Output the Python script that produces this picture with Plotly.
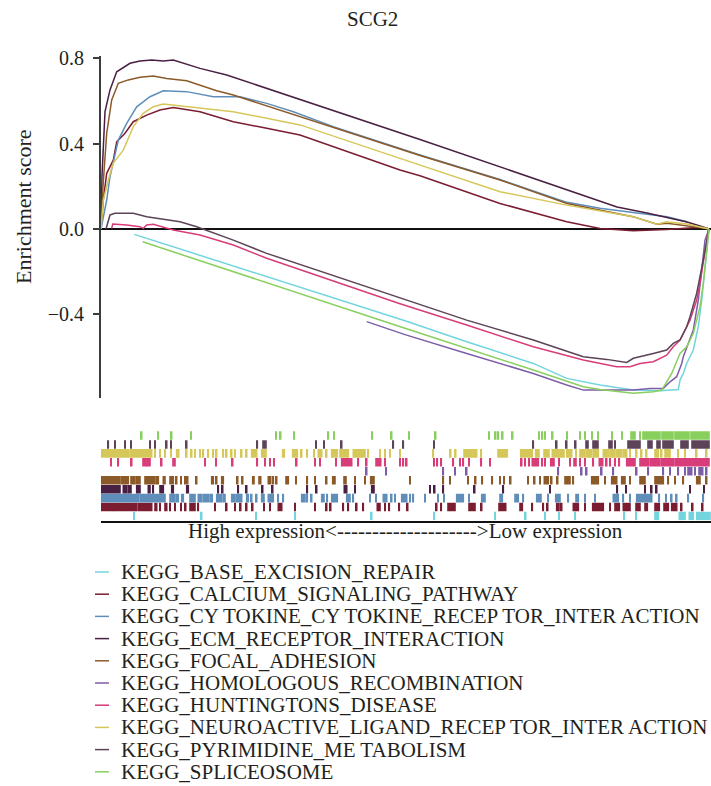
import plotly.graph_objects as go

# ---------------------------------------------------------------- gene sets
pathways = [
    "KEGG_BASE_EXCISION_REPAIR",
    "KEGG_CALCIUM_SIGNALING_PATHWAY",
    "KEGG_CY TOKINE_CY TOKINE_RECEP TOR_INTER ACTION",
    "KEGG_ECM_RECEPTOR_INTERACTION",
    "KEGG_FOCAL_ADHESION",
    "KEGG_HOMOLOGOUS_RECOMBINATION",
    "KEGG_HUNTINGTONS_DISEASE",
    "KEGG_NEUROACTIVE_LIGAND_RECEP TOR_INTER ACTION",
    "KEGG_PYRIMIDINE_ME TABOLISM",
    "KEGG_SPLICEOSOME",
]
colors = [
    "#72d4dd", "#7b1c31", "#5e8eb9", "#4a1f44", "#8c5a29",
    "#7c5ea8", "#d83c79", "#d6c75b", "#5c4358", "#88cf5d",
]

# ------------------------------------------- running enrichment score curves
# x: position in the ranked gene list, y: running enrichment score
base_excision_rank = [333, 3040, 3657, 4323, 4657, 4990, 5323, 5590, 5773, 5790, 5823, 5857, 5923, 5973, 6007, 6050, 6080]
base_excision_es = [-0.025, -0.43, -0.528, -0.63, -0.70, -0.731, -0.755, -0.758, -0.752, -0.708, -0.677, -0.63, -0.567, -0.458, -0.333, -0.145, 0.0]

calcium_rank = [0, 23, 57, 123, 157, 240, 323, 457, 590, 723, 990, 1323, 1657, 1990, 2990, 3190, 3990, 4657, 4990, 5323, 5657, 5990, 6080]
calcium_es = [0.0, 0.136, 0.261, 0.323, 0.409, 0.449, 0.503, 0.534, 0.558, 0.57, 0.55, 0.503, 0.472, 0.441, 0.277, 0.25, 0.12, 0.034, 0.003, -0.008, -0.002, 0.008, 0.0]

cytokine_rank = [0, 57, 90, 123, 173, 257, 357, 490, 623, 857, 1123, 1390, 1657, 1923, 2323, 3190, 3990, 4660, 4990, 5320, 5460, 5660, 5860]
cytokine_es = [0.0, 0.136, 0.245, 0.308, 0.417, 0.495, 0.573, 0.62, 0.648, 0.644, 0.62, 0.62, 0.589, 0.55, 0.48, 0.347, 0.232, 0.125, 0.097, 0.077, 0.07, 0.058, 0.034]

ecm_rank = [0, 10, 40, 90, 157, 240, 290, 390, 507, 620, 723, 990, 1257, 3190, 5160, 5460, 5600, 5860, 5990, 6060, 6080]
ecm_es = [0.0, 0.25, 0.55, 0.652, 0.737, 0.761, 0.777, 0.788, 0.792, 0.788, 0.792, 0.753, 0.722, 0.42, 0.103, 0.075, 0.061, 0.033, 0.014, 0.005, 0.0]

focal_rank = [0, 20, 57, 107, 173, 273, 390, 523, 657, 857, 1157, 1323, 3190, 3990, 4660, 5320, 5560, 5660, 6060, 6080]
focal_es = [0.0, 0.2, 0.449, 0.605, 0.683, 0.699, 0.711, 0.717, 0.706, 0.695, 0.648, 0.628, 0.345, 0.23, 0.12, 0.058, 0.023, 0.027, 0.003, 0.0]

homologous_rank = [2657, 3040, 3657, 4323, 4657, 4823, 5323, 5490, 5623, 5690, 5757, 5807, 5823, 5890, 5923, 5973, 6007, 6040, 6080]
homologous_es = [-0.434, -0.495, -0.583, -0.677, -0.731, -0.755, -0.755, -0.747, -0.747, -0.716, -0.692, -0.63, -0.599, -0.52, -0.473, -0.333, -0.177, -0.052, 0.0]

huntingtons_rank = [107, 117, 257, 390, 423, 457, 523, 723, 990, 1323, 1657, 1757, 2990, 3657, 4323, 4823, 5157, 5290, 5390, 5523, 5657, 5723, 5790, 5890, 5957, 5990, 6040, 6073, 6080]
huntingtons_es = [0.003, 0.023, 0.019, 0.011, 0.003, 0.019, 0.022, -0.005, -0.028, -0.075, -0.137, -0.153, -0.35, -0.45, -0.552, -0.614, -0.645, -0.645, -0.63, -0.622, -0.591, -0.552, -0.52, -0.427, -0.333, -0.255, -0.098, -0.005, 0.0]

neuroactive_rank = [0, 23, 73, 123, 223, 323, 423, 523, 623, 790, 1057, 1323, 1657, 1990, 2990, 3190, 3990, 4657, 5323, 5557, 5657, 5860, 6060, 6080]
neuroactive_es = [0.0, 0.136, 0.23, 0.309, 0.37, 0.48, 0.542, 0.573, 0.586, 0.577, 0.561, 0.55, 0.519, 0.488, 0.331, 0.30, 0.175, 0.112, 0.058, 0.022, 0.034, 0.024, 0.003, 0.0]

pyrimidine_rank = [50, 90, 140, 323, 457, 657, 790, 957, 1323, 1657, 2990, 3657, 4323, 4823, 5057, 5257, 5323, 5390, 5523, 5657, 5723, 5790, 5857, 5890, 5957, 6023, 6073, 6080]
pyrimidine_es = [0.0, 0.066, 0.074, 0.074, 0.058, 0.042, 0.034, 0.011, -0.052, -0.114, -0.322, -0.427, -0.52, -0.599, -0.611, -0.625, -0.606, -0.599, -0.583, -0.567, -0.536, -0.52, -0.458, -0.411, -0.301, -0.145, -0.005, 0.0]

spliceosome_rank = [417, 1723, 1807, 3040, 4323, 4823, 4990, 5323, 5523, 5607, 5657, 5707, 5790, 5857, 5923, 5990, 6023, 6057, 6080]
spliceosome_es = [-0.06, -0.263, -0.273, -0.465, -0.661, -0.739, -0.752, -0.77, -0.763, -0.755, -0.716, -0.677, -0.583, -0.552, -0.489, -0.364, -0.255, -0.098, 0.0]

# ------------------------------------------------ gene set hits in the ranked list
# a single number is one hit, a pair is a run of neighbouring hits
base_excision_hits = [330, 1007, 1550, 1940, 2707, 3333, 3940, 4247, 4440, 4580, 4740, 5230, 5350,
                      (5540, 5573), (5783, 5840), (5883, 5923), (5957, 6090)]
calcium_hits = [(0, 123), (133, 357), (373, 507), (540, 557), 590, (640, 657), 690, 740, 800, 847, (890, 940), 973,
                1140, 1257, 1340, 1397, 1457, 1517, 1630, 1690, (1773, 1807), 1940, 2140, 2257, 2297, 2423, 2473,
                2557, 2623, (2763, 2790), 2840, 2883, 2983, 3067, 3357, 3403, (3470, 3540), (3680, 3740), 3807,
                (3980, 4047), (4190, 4213), 4313, 4423, 4467, (4557, 4580), 4607, (4723, 4773), 4840, (4917, 5023),
                5090, (5140, 5183), (5223, 5290), (5350, 5390), (5440, 5463), (5540, 5583), (5630, 5673),
                (5707, 5757), 5807, 5917, 6017]
cytokine_hits = [(0, 373), (390, 640), (690, 740), (757, 773), (807, 823), (890, 940), (973, 1007), (1023, 1073),
                 (1090, 1113), (1157, 1207), (1223, 1240), (1307, 1340), (1357, 1407), (1457, 1473), 1507, 1557,
                 (1607, 1630), (1673, 1723), 1773, 1823, (2007, 2040), 2063, 2107, (2207, 2230), 2263, (2307, 2363),
                 (2457, 2490), 2523, 2690, 2750, (2823, 2857), 2907, 2940, (3007, 3057), 3090, 3123, 3240, 3370,
                 3430, (3557, 3623), 3680, (3807, 3840), (3990, 4013), (4140, 4173), 4223, (4357, 4400), 4470,
                 (4547, 4590), 4673, (4750, 4773), 4840, 4940, (5123, 5173), 5223, 5290, (5357, 5507), 5583, 5650,
                 5707, 5757, 5873, 6023]
ecm_hits = [(0, 190), (223, 257), (273, 300), (357, 390), (473, 490), 523, (590, 623), (707, 723), (857, 873), 1173,
            1217, 1373, 1457, 1617, 1717, 2063, 2157, (2433, 2457), 2540, (2707, 2730), 3290, 3337, 3423, 3737,
            4023, 4490, 5163, 5250, 5440, 5507, 5557, 5890, 6030]
focal_hits = [(0, 190), (207, 273), (300, 340), (357, 390), (440, 540), (557, 573), (623, 640), (690, 723), 757,
              800, 840, 867, 957, (1107, 1123), 1157, (1207, 1223), 1367, 1417, (1517, 1530), (1580, 1597),
              (1673, 1697), 1723, 1757, (1850, 1873), 1950, 2063, 2140, 2257, (2317, 2340), (2430, 2450), 2540,
              2640, (2697, 2730), 3090, 3423, 3490, 3670, 3747, 3813, 3913, 3990, 4030, 4097, 4270, 4337, 4390,
              (4433, 4473), 4507, 4567, (4640, 4690), 4723, (4907, 4973), 5040, (5107, 5157), (5207, 5240), 5290,
              (5390, 5440), (5540, 5623), 5673, 5740, 5823, (5957, 5990), 6057]
homologous_hits = [2657, 2850, 3423, 3540, 3657, 4573, 4807, 4857, 5007, 5123, 5357, 5473, 5623, 5690, 5773, 5840,
                   (5870, 5907), 5940, (5980, 6017), 6057]
huntingtons_hits = [100, 173, 307, (420, 450), (460, 490), 607, (720, 740), 1040, 1150, 1317, 1563, 1640, 1690, 1730,
                    1957, 2140, 2190, 2350, (2407, 2507), 2573, 2657, (2750, 2797), 2840, 2990, 3023, 3057, 3330,
                    3363, 3403, 3523, 3590, 3623, 3680, 3803, 3890, 4207, 4240, 4280, (4313, 4373), 4413, 4440,
                    (4497, 4530), 4580, 4690, (4730, 4750), 4790, 4840, 4923, (4983, 5017), 5057, 5090, 5140, 5183,
                    (5257, 5340), (5390, 5473), (5490, 5590), (5607, 5723), (5740, 6080)]
neuroactive_hits = [(0, 273), (290, 490), 507, 540, 590, 640, 700, (757, 777), 857, 907, 940, 990, 1023, 1073, 1123,
                    1157, 1223, 1257, 1307, 1340, 1407, 1457, (1507, 1557), (1607, 1650), (1817, 1833), (1917, 1963),
                    2007, 2063, 2130, (2173, 2207), 2257, (2307, 2363), (2390, 2473), (2523, 2640), 2673, 2790, 2840,
                    2890, 2990, 3323, 3497, 3547, (3630, 3757), 3803, (3970, 4063), (4197, 4313), (4347, 4380),
                    (4430, 4480), (4513, 4580), (4590, 4630), (4657, 4707), 4750, (4790, 4840), (4857, 4907),
                    (4923, 4973), (5023, 5073), (5090, 5140), (5157, 5207), (5223, 5257), 5290, 5357, 5407, 5457,
                    (5540, 5573), 5607, (5640, 5690), 5773, 5840, 5957, 6057]
pyrimidine_hits = [73, 140, 240, 300, 490, 540, 657, 700, 857, 1563, (1620, 1650), 2150, 2230, 2407, 2923, 3023, 3330,
                   4323, 4557, 4657, 4747, (4850, 4870), (4920, 4970), (5080, 5110), 5140, (5270, 5390),
                   (5470, 5510), (5560, 5590), (5620, 5720), (5800, 5870), (5910, 6080)]
spliceosome_hits = [407, 573, 707, 900, 1750, 1797, 1930, 2273, 2330, 2713, 2907, 3080, 3347, 3880, 3947, 3973, 4017,
                    4117, 4380, 4413, 4440, 4517, 4660, 4790, 4840, 4910, 4970, 5110, 5210, (5300, 5340), 5390,
                    (5420, 5590), (5610, 5720), (5740, 5880), (5900, 6080)]

curves = [
    (base_excision_rank, base_excision_es),
    (calcium_rank, calcium_es),
    (cytokine_rank, cytokine_es),
    (ecm_rank, ecm_es),
    (focal_rank, focal_es),
    (homologous_rank, homologous_es),
    (huntingtons_rank, huntingtons_es),
    (neuroactive_rank, neuroactive_es),
    (pyrimidine_rank, pyrimidine_es),
    (spliceosome_rank, spliceosome_es),
]
hits = [base_excision_hits, calcium_hits, cytokine_hits, ecm_hits, focal_hits,
        homologous_hits, huntingtons_hits, neuroactive_hits, pyrimidine_hits, spliceosome_hits]

N_GENES = 6100
TICK = 16  # drawn width of one hit, in ranks

fig = go.Figure()

# running enrichment score lines
for name, color, (rank, es) in zip(pathways, colors, curves):
    fig.add_trace(go.Scatter(x=rank, y=es, mode="lines", name=name,
                             line=dict(color=color, width=1.5),
                             xaxis="x", yaxis="y", hoverinfo="name+x+y"))


def to_segments(hit_list):
    starts, lengths = [], []
    for h in hit_list:
        if isinstance(h, tuple):
            a, b = h
        else:
            a = b = h
        starts.append(a - TICK / 2)
        lengths.append(b - a + TICK)
    return starts, lengths


# hit barcode: one row per gene set, first set at the bottom
for row, (name, color, hit_list) in enumerate(zip(pathways, colors, hits)):
    starts, lengths = to_segments(hit_list)
    fig.add_trace(go.Bar(y=[row] * len(starts), x=lengths, base=starts, orientation="h",
                         width=0.96, marker=dict(color=color, line=dict(width=0)),
                         name=name, xaxis="x2", yaxis="y2", showlegend=False,
                         hoverinfo="name"))

W, H = 711, 786
FONT = "Liberation Serif"
TEXT = "#231f20"

fig.update_layout(
    width=W, height=H,
    margin=dict(l=0, r=0, t=0, b=0, pad=0, autoexpand=False),
    paper_bgcolor="white", plot_bgcolor="white",
    showlegend=False, barmode="overlay",
    font=dict(family=FONT, size=20, color=TEXT),
    xaxis=dict(domain=[101 / W, 1], range=[0, N_GENES], visible=False, automargin=False),
    yaxis=dict(domain=[1 - 398 / H, 1 - 56 / H], range=[-0.792, 0.811],
               tickvals=[-0.4, 0.0, 0.4, 0.8], ticktext=["\u22120.4", "0.0", "0.4", "0.8"],
               ticks="outside", ticklen=6, tickwidth=1.5, tickcolor="#3c3c3c",
               showline=True, linecolor="#3c3c3c", linewidth=2,
               zeroline=True, zerolinecolor="#111111", zerolinewidth=1.5,
               showgrid=False, ticklabelstandoff=5, automargin=False,
               tickfont=dict(family=FONT, size=20, color=TEXT)),
    xaxis2=dict(domain=[101 / W, 1], range=[0, N_GENES], anchor="y2",
                showline=True, linecolor="#111111", linewidth=2, automargin=False,
                showticklabels=False, ticks="", showgrid=False, zeroline=False),
    yaxis2=dict(domain=[1 - 520.5 / H, 1 - 431 / H], range=[-0.5, 9.5], anchor="x2",
                visible=False, automargin=False),
)

annotations = [
    dict(text="SCG2", x=372 / W, y=1 - 19 / H, xref="paper", yref="paper",
         xanchor="center", yanchor="middle", showarrow=False,
         font=dict(family=FONT, size=21, color=TEXT)),
    dict(text="Enrichment score", x=24 / W, y=1 - 207 / H, xref="paper", yref="paper",
         xanchor="center", yanchor="middle", textangle=-90, showarrow=False,
         font=dict(family=FONT, size=22, color=TEXT)),
    dict(text="High expression<" + "-" * 20 + ">Low expression", x=405 / W, y=1 - 531 / H,
         xref="paper", yref="paper", xanchor="center", yanchor="middle", showarrow=False,
         font=dict(family=FONT, size=21, color=TEXT)),
]

# legend: short coloured line + set name
shapes = []
for i, (name, color) in enumerate(zip(pathways, colors)):
    yc = 572 + i * 22.2
    shapes.append(dict(type="line", xref="paper", yref="paper",
                       x0=95 / W, x1=109 / W, y0=1 - yc / H, y1=1 - yc / H,
                       line=dict(color=color, width=1.5)))
    annotations.append(dict(text=name, x=119 / W, y=1 - yc / H, xref="paper", yref="paper",
                            xanchor="left", yanchor="middle", showarrow=False,
                            font=dict(family=FONT, size=21, color=TEXT)))

fig.update_layout(annotations=annotations, shapes=shapes)

fig.write_html("out.html")
